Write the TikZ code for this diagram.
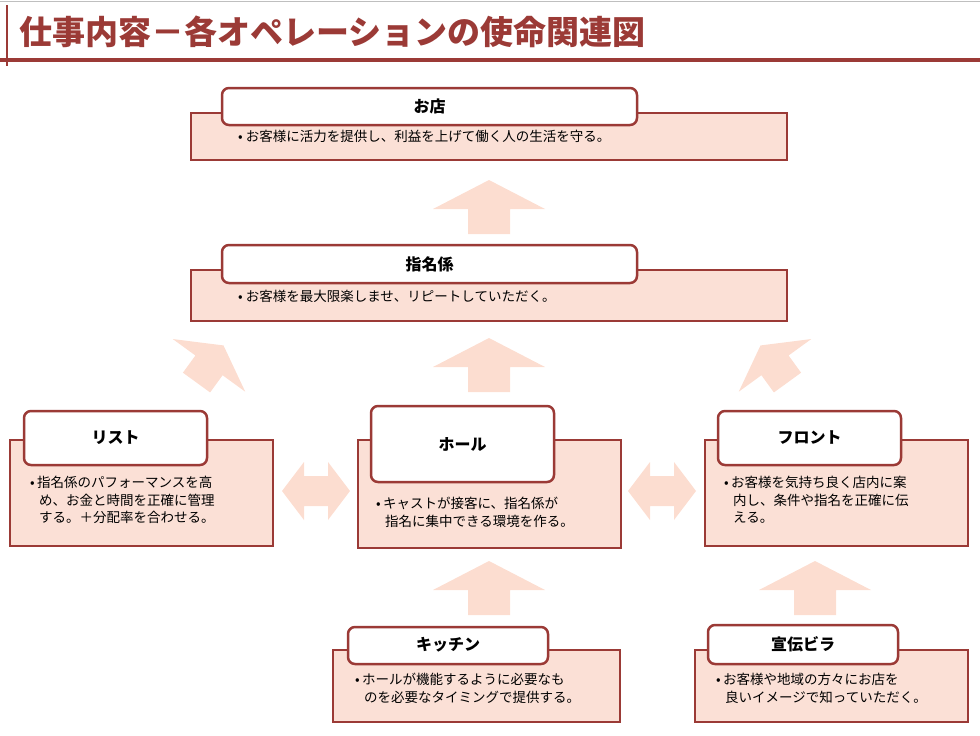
\documentclass[tikz,border=0pt]{standalone}
\usepackage{fontspec}
\setmainfont{Noto Sans CJK JP}
\newfontfamily\cjk{Noto Sans CJK JP}
\definecolor{bd}{HTML}{9B3A36}
\definecolor{pk}{HTML}{FBE0D6}
\definecolor{ar}{HTML}{FCDDD0}
\begin{document}
\begin{tikzpicture}[x=1pt,y=-1pt,
 box/.style={draw=bd,fill=pk,line width=2pt},
 ttl/.style={draw=bd,fill=white,line width=2.5pt,rounded corners=7pt},
 tt/.style={font=\fontsize{16}{18}\selectfont\bfseries},
 bt/.style={font=\fontsize{13.5}{17.5}\selectfont,anchor=north west,align=left,inner sep=0pt},
 arw/.style={fill=ar,draw=none}]
\useasboundingbox (0,0) rectangle (980,736);
\draw[gray!50,line width=1pt] (0,1)--(980,1);
\draw[bd,line width=1.5pt] (7,5)--(7,66);
\draw[bd,line width=3.5pt] (0,60)--(980,60);
\node[anchor=west,text=bd,font=\fontsize{33}{36}\selectfont\bfseries] (title) at (16,32) {仕事内容－各オペレーションの使命関連図};
% arrows
\def\uparr{(-21,27)--(-21,2)--(-56,2)--(0,-27)--(56,2)--(21,2)--(21,27)--cycle}
\def\dbarr{(-34,0)--(-12,-29)--(-12,-15)--(12,-15)--(12,-29)--(34,0)--(12,29)--(12,15)--(-12,15)--(-12,29)--cycle}
\begin{scope}[shift={(489,207)}]\fill[arw] \uparr;\end{scope}
\begin{scope}[shift={(489,365)}]\fill[arw] \uparr;\end{scope}
\begin{scope}[shift={(489,588)}]\fill[arw] \uparr;\end{scope}
\begin{scope}[shift={(815,588)}]\fill[arw] \uparr;\end{scope}
\begin{scope}[shift={(210,364)},rotate=-36,yscale=0.85,xscale=0.8]\fill[arw] \uparr;\end{scope}
\begin{scope}[shift={(774,364)},rotate=36,yscale=0.85,xscale=0.8]\fill[arw] \uparr;\end{scope}
\begin{scope}[shift={(316,491)}]\fill[arw] \dbarr;\end{scope}
\begin{scope}[shift={(662,491)}]\fill[arw] \dbarr;\end{scope}
% boxes
\draw[box] (191,113) rectangle (787,160);
\draw[ttl] (222,88) rectangle (637,125); \node[tt] (t1) at (429.5,106) {お店};
\node[bt] (b1) at (238,130) {• お客様に活力を提供し、利益を上げて働く人の生活を守る。};
\draw[box] (191,270) rectangle (787,321);
\draw[ttl] (222,245) rectangle (637,283); \node[tt] (t2) at (429.5,264) {指名係};
\node[bt] (b2) at (238,290) {• お客様を最大限楽しませ、リピートしていただく。};
\draw[box] (10,440) rectangle (273,546);
\draw[ttl] (24,411) rectangle (207,465); \node[tt] (t3) at (115.5,438) {リスト};
\node[bt] (b3) at (30,476) {•\,指名係のパフォーマンスを高\\\hspace*{9pt}め、お金と時間を正確に管理\\\hspace*{9pt}する。＋分配率を合わせる。};
\draw[box] (358,440) rectangle (621,548);
\draw[ttl] (371,406) rectangle (554,482); \node[tt] (t4) at (462.5,444) {ホール};
\node[bt] (b4) at (376,497) {•\,キャストが接客に、指名係が\\\hspace*{9pt}指名に集中できる環境を作る。};
\draw[box] (705,440) rectangle (968,546);
\draw[ttl] (718,411) rectangle (901,465); \node[tt] (t5) at (809.5,438) {フロント};
\node[bt] (b5) at (724,476) {•\,お客様を気持ち良く店内に案\\\hspace*{9pt}内し、条件や指名を正確に伝\\\hspace*{9pt}える。};
\draw[box] (333,650) rectangle (620,722);
\draw[ttl] (348,627) rectangle (548,664); \node[tt] (t6) at (448,645) {キッチン};
\node[bt] (b6) at (355,673) {•\,ホールが機能するように必要なも\\\hspace*{9pt}のを必要なタイミングで提供する。};
\draw[box] (695,650) rectangle (968,722);
\draw[ttl] (708,625) rectangle (898,664); \node[tt] (t7) at (803,644) {宣伝ビラ};
\node[bt] (b7) at (716,673) {•\,お客様や地域の方々にお店を\\\hspace*{9pt}良いイメージで知っていただく。};
\end{tikzpicture}
\end{document}
